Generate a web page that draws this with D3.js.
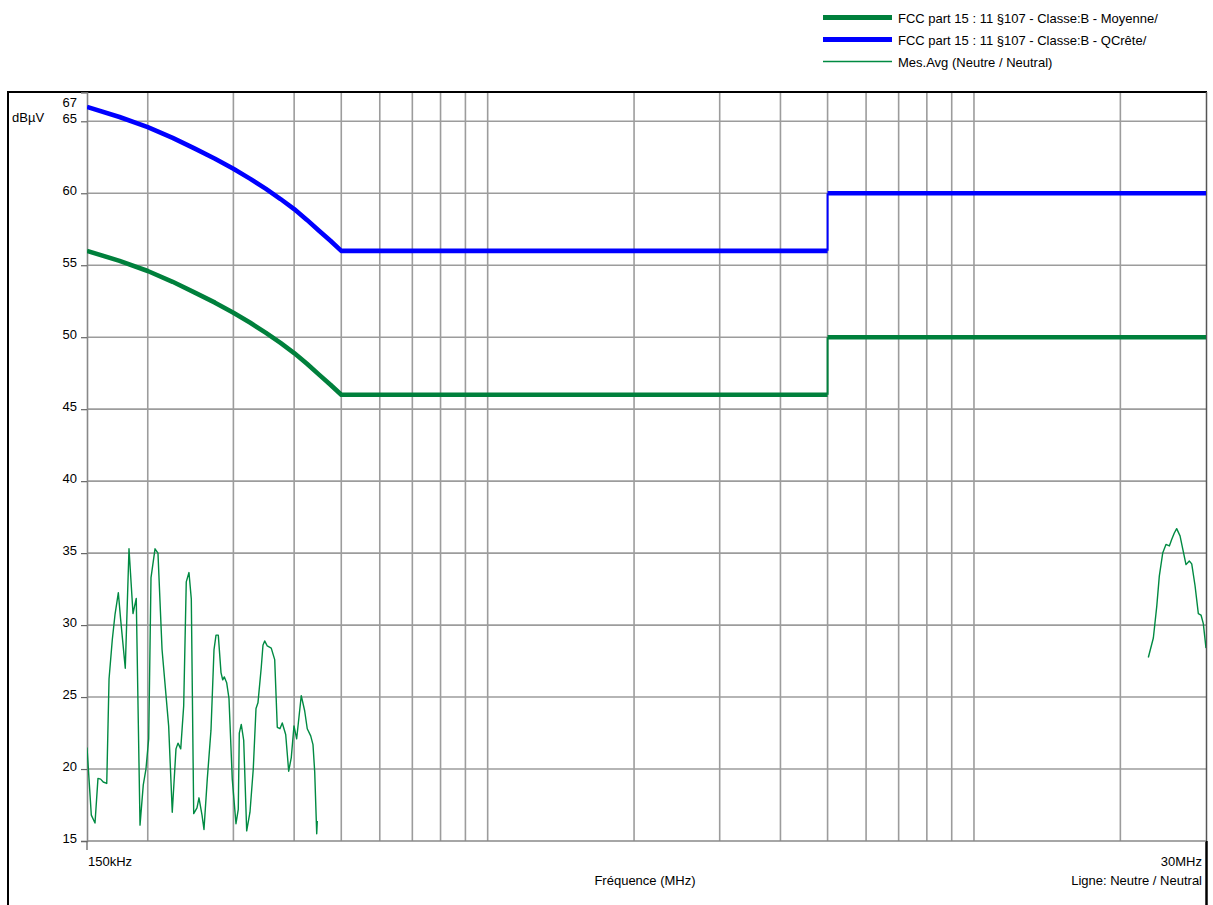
<!DOCTYPE html>
<html>
<head>
<meta charset="utf-8">
<script src="https://cdn.jsdelivr.net/npm/d3@7"></script>
<style>
  body { margin: 0; background: #fff; }
  text { font-family: "Liberation Sans", Arial, sans-serif; font-size: 13px; fill: #000; }
</style>
</head>
<body>
<svg id="chart" width="1213" height="905"></svg>
<script>
// ---- axis definitions ----
const yTickValues = [15, 20, 25, 30, 35, 40, 45, 50, 55, 60, 65];
const yMin = 15, yMax = 67;
const fMin = 0.15, fMax = 30;
const gridFreqs = [0.2, 0.3, 0.4, 0.5, 0.6, 0.7, 0.8, 0.9, 1, 2, 3, 4, 5, 6, 7, 8, 9, 10, 20];

// ---- FCC part 15 class B limits (MHz, dBµV) ----
const limitFreq = [0.15, 0.175, 0.2, 0.225, 0.25, 0.275, 0.3, 0.325, 0.35, 0.375, 0.4, 0.425, 0.45, 0.475, 0.5, 5, 5, 30];
const limitAvg  = [56, 55.3, 54.6, 53.85, 53.1, 52.4, 51.7, 51.0, 50.3, 49.6, 48.9, 48.15, 47.4, 46.7, 46, 46, 50, 50];
const limitQP   = [66, 65.3, 64.6, 63.85, 63.1, 62.4, 61.7, 61.0, 60.3, 59.6, 58.9, 58.15, 57.4, 56.7, 56, 56, 60, 60];

// ---- measured average, neutral line (MHz, dBµV) ----
const measFreqA = [0.150, 0.1531, 0.1558, 0.1580, 0.1600, 0.1620, 0.1647, 0.1665, 0.1691, 0.1713,
  0.1740, 0.1759, 0.1798, 0.1830, 0.1865, 0.1894, 0.1928, 0.1958, 0.1983, 0.2009,
  0.2031, 0.2070, 0.2099, 0.2140, 0.2208, 0.2246, 0.2286, 0.2308, 0.2338, 0.2371,
  0.2400, 0.2431, 0.2458, 0.2486, 0.2525, 0.2549, 0.2586, 0.2610, 0.2651, 0.2698,
  0.2737, 0.2763, 0.2793, 0.2829, 0.2852, 0.2874, 0.2906, 0.2938, 0.2984, 0.3037,
  0.3070, 0.3085, 0.3114, 0.3150, 0.3195, 0.3245, 0.3296, 0.3339, 0.3370, 0.3423,
  0.3451, 0.3479, 0.3522, 0.3589, 0.3648, 0.3693, 0.3740, 0.3781, 0.3843, 0.3898,
  0.3946, 0.3997, 0.4048, 0.4092, 0.4137, 0.4204, 0.4256, 0.4326, 0.4373, 0.4409,
  0.4451, 0.4463];
const measLevelA = [21.5, 16.8, 16.25, 19.35, 19.3, 19.1, 19.0, 26.25, 29.0, 30.75,
  32.25, 30.4, 27.0, 35.3, 30.8, 31.85, 16.1, 18.9, 20.0, 22.1,
  33.3, 35.3, 35.0, 28.3, 23.0, 17.0, 21.4, 21.8, 21.4, 24.4,
  33.0, 33.65, 31.8, 16.9, 17.3, 18.0, 16.8, 15.8, 19.3, 22.7,
  28.3, 29.3, 29.3, 26.7, 26.2, 26.4, 26.0, 24.9, 19.3, 16.2,
  17.2, 22.5, 23.1, 22.0, 15.7, 17.0, 20.0, 24.2, 24.6, 27.05,
  28.6, 28.9, 28.55, 28.4, 27.6, 22.9, 22.8, 23.2, 22.4, 19.85,
  20.8, 23.0, 22.1, 23.6, 25.1, 24.05, 22.8, 22.3, 21.7, 19.8,
  15.5, 16.4];
const measFreqB = [22.83, 23.38, 23.76, 24.05, 24.44, 24.82, 25.22, 25.50, 25.82, 26.11,
  26.53, 26.87, 27.29, 27.72, 28.04, 28.48, 28.93, 29.30, 29.62, 30.0];
const measLevelB = [27.75, 29.1, 31.3, 33.4, 35.0, 35.6, 35.5, 35.95, 36.4, 36.7,
  36.2, 35.3, 34.2, 34.45, 34.25, 32.75, 30.8, 30.7, 30.1, 28.4];

// ---- legend entries ----
const legendLabels = [
  "FCC part 15 : 11 §107 - Classe:B - Moyenne/",
  "FCC part 15 : 11 §107 - Classe:B - QCrête/",
  "Mes.Avg (Neutre / Neutral)"
];
const greenLimit = "#00803c", blueLimit = "#0000ff", greenMeas = "#008a42";
const legendColors = [greenLimit, blueLimit, greenMeas];
const legendWidths = [5, 5, 1.3];

const svg = d3.select("#chart");
const plot = { left: 87, right: 1206, top: 92.5, bottom: 841 };

const x = d3.scaleLog().domain([fMin, fMax]).range([plot.left, plot.right]);
const y = d3.scaleLinear().domain([yMin, yMax]).range([plot.bottom, plot.top]);

svg.append("defs").append("clipPath").attr("id", "plotClip")
  .append("rect").attr("x", plot.left).attr("y", plot.top)
  .attr("width", plot.right - plot.left).attr("height", plot.bottom - plot.top);

// ---- grid ----
const gridColor = "#9c9c9c";
const grid = svg.append("g");
grid.selectAll("line.v").data(gridFreqs).join("line")
  .attr("x1", d => x(d)).attr("x2", d => x(d))
  .attr("y1", plot.top).attr("y2", plot.bottom)
  .attr("stroke", gridColor).attr("stroke-width", 1.6);
grid.selectAll("line.h").data(yTickValues.filter(v => v > yMin)).join("line")
  .attr("x1", plot.left).attr("x2", plot.right)
  .attr("y1", d => y(d)).attr("y2", d => y(d))
  .attr("stroke", gridColor).attr("stroke-width", 1.6);

// ---- frame ----
svg.append("line").attr("x1", 8).attr("x2", 1207).attr("y1", 92).attr("y2", 92)
  .attr("stroke", "#000").attr("stroke-width", 2);
svg.append("line").attr("x1", 8).attr("x2", 8).attr("y1", 91).attr("y2", 905)
  .attr("stroke", "#000").attr("stroke-width", 2);
svg.append("line").attr("x1", 1206.5).attr("x2", 1206.5).attr("y1", 92).attr("y2", plot.bottom)
  .attr("stroke", "#555").attr("stroke-width", 1.5);
svg.append("line").attr("x1", 1206.5).attr("x2", 1206.5).attr("y1", plot.bottom).attr("y2", 905)
  .attr("stroke", "#000").attr("stroke-width", 2.5);

// ---- y axis ----
const yAxis = d3.axisLeft(y).tickValues(yTickValues).tickSize(6).tickPadding(4).tickFormat(d3.format("d"));
const gy = svg.append("g").attr("transform", `translate(${plot.left},0)`).call(yAxis);
gy.select(".domain").attr("stroke", "#888").attr("stroke-width", 1.6);
gy.selectAll(".tick line").attr("stroke", "#666").attr("stroke-width", 1.2);
gy.selectAll(".tick text").attr("dy", "0.1em").attr("font-size", 13)
  .attr("font-family", '"Liberation Sans", Arial, sans-serif').attr("fill", "#000");
gy.append("text").attr("x", -10).attr("y", y(yMax) + 14).attr("text-anchor", "end")
  .attr("fill", "#000").attr("font-size", 13)
  .attr("font-family", '"Liberation Sans", Arial, sans-serif').text(yMax);
svg.append("text").attr("x", 12).attr("y", y(65) + 1).text("dBµV");

// ---- x axis ----
svg.append("line").attr("x1", plot.left).attr("x2", plot.right)
  .attr("y1", plot.bottom).attr("y2", plot.bottom).attr("stroke", "#888").attr("stroke-width", 1.6);
svg.append("line").attr("x1", x(fMin)).attr("x2", x(fMin))
  .attr("y1", plot.bottom).attr("y2", plot.bottom + 9).attr("stroke", "#666").attr("stroke-width", 1.3);
svg.append("text").attr("x", x(fMin) + 1).attr("y", 866).text("150kHz");
svg.append("text").attr("x", x(fMax) - 4).attr("y", 866).attr("text-anchor", "end").text("30MHz");
svg.append("text").attr("x", 645).attr("y", 885).attr("text-anchor", "middle").text("Fréquence (MHz)");
svg.append("text").attr("x", x(fMax) - 4).attr("y", 885).attr("text-anchor", "end").text("Ligne: Neutre / Neutral");

// ---- limit lines ----
const line = d3.line().x(d => x(d[0])).y(d => y(d[1]));
function drawLimit(levels, color) {
  const pts = limitFreq.map((f, i) => [f, levels[i]]);
  const g = svg.append("g").attr("clip-path", "url(#plotClip)");
  const thick = run => g.append("path").attr("d", line(run)).attr("fill", "none")
    .attr("stroke", color).attr("stroke-width", 4.6).attr("stroke-linejoin", "round");
  let run = [pts[0]];
  for (let i = 1; i < pts.length; i++) {
    if (pts[i][0] === pts[i - 1][0]) {
      thick(run);
      // vertical step between two limit levels
      g.append("path").attr("d", line([pts[i - 1], pts[i]])).attr("fill", "none")
        .attr("stroke", color).attr("stroke-width", 2);
      run = [pts[i]];
    } else {
      run.push(pts[i]);
    }
  }
  thick(run);
}
drawLimit(limitAvg, greenLimit);
drawLimit(limitQP, blueLimit);

// ---- measurement trace ----
const meas = svg.append("g").attr("clip-path", "url(#plotClip)");
[[measFreqA, measLevelA], [measFreqB, measLevelB]].forEach(([fs, ls]) => {
  meas.append("path").attr("d", line(fs.map((f, i) => [f, ls[i]])))
    .attr("fill", "none").attr("stroke", greenMeas).attr("stroke-width", 1.4)
    .attr("stroke-linejoin", "round");
});

// ---- legend ----
const leg = svg.append("g");
legendLabels.forEach((lab, i) => {
  const ly = 17.5 + i * 22;
  leg.append("line").attr("x1", 823).attr("x2", 892).attr("y1", ly).attr("y2", ly)
    .attr("stroke", legendColors[i]).attr("stroke-width", legendWidths[i]);
  leg.append("text").attr("x", 898).attr("y", ly + 5).text(lab);
});
</script>
</body>
</html>
